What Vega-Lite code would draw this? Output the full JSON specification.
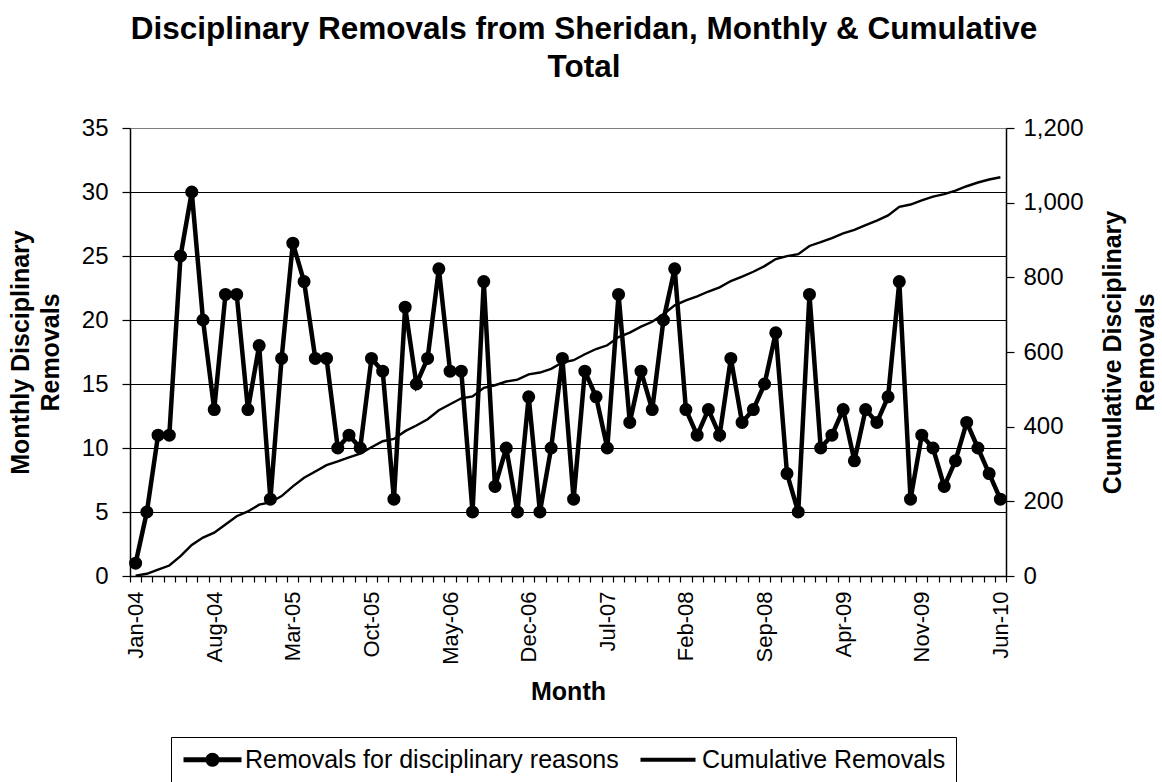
{
  "$schema": "https://vega.github.io/schema/vega-lite/v6.json",
  "width": 876,
  "height": 448,
  "autosize": {"type": "none"},
  "padding": {"left": 130, "top": 128, "right": 156, "bottom": 206},
  "background": "white",
  "config": {"font": "Liberation Sans", "view": {"stroke": null}},
  "title": {
    "text": ["Disciplinary Removals from Sheridan, Monthly & Cumulative", "Total"],
    "fontSize": 31.5, "fontWeight": "bold", "font": "Liberation Sans", "color": "black",
    "anchor": "middle", "dx": 16, "offset": 33, "lineHeight": 38
  },
  "data": {"values": [
    {"month": "Jan-04", "removals": 1, "cumulative": 1},
    {"month": "Feb-04", "removals": 5, "cumulative": 6},
    {"month": "Mar-04", "removals": 11, "cumulative": 17},
    {"month": "Apr-04", "removals": 11, "cumulative": 28},
    {"month": "May-04", "removals": 25, "cumulative": 53},
    {"month": "Jun-04", "removals": 30, "cumulative": 83},
    {"month": "Jul-04", "removals": 20, "cumulative": 103},
    {"month": "Aug-04", "removals": 13, "cumulative": 116},
    {"month": "Sep-04", "removals": 22, "cumulative": 138},
    {"month": "Oct-04", "removals": 22, "cumulative": 160},
    {"month": "Nov-04", "removals": 13, "cumulative": 173},
    {"month": "Dec-04", "removals": 18, "cumulative": 191},
    {"month": "Jan-05", "removals": 6, "cumulative": 197},
    {"month": "Feb-05", "removals": 17, "cumulative": 214},
    {"month": "Mar-05", "removals": 26, "cumulative": 240},
    {"month": "Apr-05", "removals": 23, "cumulative": 263},
    {"month": "May-05", "removals": 17, "cumulative": 280},
    {"month": "Jun-05", "removals": 17, "cumulative": 297},
    {"month": "Jul-05", "removals": 10, "cumulative": 307},
    {"month": "Aug-05", "removals": 11, "cumulative": 318},
    {"month": "Sep-05", "removals": 10, "cumulative": 328},
    {"month": "Oct-05", "removals": 17, "cumulative": 345},
    {"month": "Nov-05", "removals": 16, "cumulative": 361},
    {"month": "Dec-05", "removals": 6, "cumulative": 367},
    {"month": "Jan-06", "removals": 21, "cumulative": 388},
    {"month": "Feb-06", "removals": 15, "cumulative": 403},
    {"month": "Mar-06", "removals": 17, "cumulative": 420},
    {"month": "Apr-06", "removals": 24, "cumulative": 444},
    {"month": "May-06", "removals": 16, "cumulative": 460},
    {"month": "Jun-06", "removals": 16, "cumulative": 476},
    {"month": "Jul-06", "removals": 5, "cumulative": 481},
    {"month": "Aug-06", "removals": 23, "cumulative": 504},
    {"month": "Sep-06", "removals": 7, "cumulative": 511},
    {"month": "Oct-06", "removals": 10, "cumulative": 521},
    {"month": "Nov-06", "removals": 5, "cumulative": 526},
    {"month": "Dec-06", "removals": 14, "cumulative": 540},
    {"month": "Jan-07", "removals": 5, "cumulative": 545},
    {"month": "Feb-07", "removals": 10, "cumulative": 555},
    {"month": "Mar-07", "removals": 17, "cumulative": 572},
    {"month": "Apr-07", "removals": 6, "cumulative": 578},
    {"month": "May-07", "removals": 16, "cumulative": 594},
    {"month": "Jun-07", "removals": 14, "cumulative": 608},
    {"month": "Jul-07", "removals": 10, "cumulative": 618},
    {"month": "Aug-07", "removals": 22, "cumulative": 640},
    {"month": "Sep-07", "removals": 12, "cumulative": 652},
    {"month": "Oct-07", "removals": 16, "cumulative": 668},
    {"month": "Nov-07", "removals": 13, "cumulative": 681},
    {"month": "Dec-07", "removals": 20, "cumulative": 701},
    {"month": "Jan-08", "removals": 24, "cumulative": 725},
    {"month": "Feb-08", "removals": 13, "cumulative": 738},
    {"month": "Mar-08", "removals": 11, "cumulative": 749},
    {"month": "Apr-08", "removals": 13, "cumulative": 762},
    {"month": "May-08", "removals": 11, "cumulative": 773},
    {"month": "Jun-08", "removals": 17, "cumulative": 790},
    {"month": "Jul-08", "removals": 12, "cumulative": 802},
    {"month": "Aug-08", "removals": 13, "cumulative": 815},
    {"month": "Sep-08", "removals": 15, "cumulative": 830},
    {"month": "Oct-08", "removals": 19, "cumulative": 849},
    {"month": "Nov-08", "removals": 8, "cumulative": 857},
    {"month": "Dec-08", "removals": 5, "cumulative": 862},
    {"month": "Jan-09", "removals": 22, "cumulative": 884},
    {"month": "Feb-09", "removals": 10, "cumulative": 894},
    {"month": "Mar-09", "removals": 11, "cumulative": 905},
    {"month": "Apr-09", "removals": 13, "cumulative": 918},
    {"month": "May-09", "removals": 9, "cumulative": 927},
    {"month": "Jun-09", "removals": 13, "cumulative": 940},
    {"month": "Jul-09", "removals": 12, "cumulative": 952},
    {"month": "Aug-09", "removals": 14, "cumulative": 966},
    {"month": "Sep-09", "removals": 23, "cumulative": 989},
    {"month": "Oct-09", "removals": 6, "cumulative": 995},
    {"month": "Nov-09", "removals": 11, "cumulative": 1006},
    {"month": "Dec-09", "removals": 10, "cumulative": 1016},
    {"month": "Jan-10", "removals": 7, "cumulative": 1023},
    {"month": "Feb-10", "removals": 9, "cumulative": 1032},
    {"month": "Mar-10", "removals": 12, "cumulative": 1044},
    {"month": "Apr-10", "removals": 10, "cumulative": 1054},
    {"month": "May-10", "removals": 8, "cumulative": 1062},
    {"month": "Jun-10", "removals": 6, "cumulative": 1068}
  ]},
  "encoding": {
    "x": {
      "field": "month", "type": "nominal", "sort": null,
      "scale": {"type": "band", "paddingInner": 0, "paddingOuter": 0},
      "axis": {
        "labelExpr": "indexof(['Jan-04','Aug-04','Mar-05','Oct-05','May-06','Dec-06','Jul-07','Feb-08','Sep-08','Apr-09','Nov-09','Jun-10'], datum.value) >= 0 ? datum.value : ''",
        "labelAngle": 270, "labelAlign": "right", "labelBaseline": "middle",
        "labelFontSize": 22, "labelColor": "black", "labelPadding": 9, "labelOverlap": false,
        "tickBand": "extent", "tickSize": 6, "tickColor": "black", "tickWidth": 1.2,
        "domainColor": "black", "domainWidth": 1.5, "grid": false,
        "title": "Month", "titleFontSize": 25, "titleFontWeight": "bold", "titleColor": "black", "titlePadding": 15
      }
    }
  },
  "layer": [
    {
      "encoding": {
        "y": {
          "field": "removals", "type": "quantitative",
          "scale": {"domain": [0, 35]},
          "axis": {
            "orient": "left", "values": [0, 5, 10, 15, 20, 25, 30, 35],
            "grid": true,
            "gridColor": {"condition": {"test": "datum.value === 35", "value": "#808080"}, "value": "black"},
            "gridWidth": 1.2,
            "domainColor": "black", "domainWidth": 1.5,
            "tickColor": "black", "tickSize": 8, "tickWidth": 1.2,
            "labelFontSize": 24, "labelColor": "black", "labelPadding": 14,
            "title": ["Monthly Disciplinary", "Removals"],
            "titleFontSize": 25, "titleFontWeight": "bold", "titleColor": "black",
            "titlePadding": 18, "titleLineHeight": 30
          }
        }
      },
      "layer": [
        {"mark": {"type": "line", "color": "black", "strokeWidth": 4.5}},
        {"mark": {"type": "point", "filled": true, "color": "black", "size": 170, "opacity": 1}}
      ]
    },
    {
      "mark": {"type": "line", "color": "black", "strokeWidth": 2.4},
      "encoding": {
        "y": {
          "field": "cumulative", "type": "quantitative",
          "scale": {"domain": [0, 1200]},
          "axis": {
            "orient": "right", "values": [0, 200, 400, 600, 800, 1000, 1200], "format": ",.0f",
            "grid": false,
            "domainColor": "black", "domainWidth": 1.5,
            "tickColor": "black", "tickSize": 8, "tickWidth": 1.2,
            "labelFontSize": 24, "labelColor": "black", "labelPadding": 9,
            "title": ["Cumulative Disciplinary", "Removals"],
            "titleAngle": 270,
            "titleFontSize": 25, "titleFontWeight": "bold", "titleColor": "black",
            "titlePadding": 9, "titleLineHeight": 33
          }
        }
      }
    },
    {
      "data": {"values": []},
      "mark": {"type": "point", "filled": true, "color": "black", "strokeWidth": 0, "opacity": 1},
      "encoding": {
        "shape": {
          "field": "s", "type": "nominal",
          "scale": {
            "domain": ["Removals for disciplinary reasons", "Cumulative Removals"],
            "range": [
              "M-1,-0.25L4.8,-0.25L4.8,0.25L-1,0.25ZM1.2,0A0.7,0.7 0 1,1 2.6,0A0.7,0.7 0 1,1 1.2,0Z",
              "M-1,-0.2L4.5,-0.2L4.5,0.2L-1,0.2Z"
            ]
          },
          "legend": {
            "title": null, "orient": "none", "legendX": 41, "legendY": 609,
            "direction": "horizontal",
            "strokeColor": "black", "fillColor": "white", "padding": 10,
            "labelFontSize": 25, "labelColor": "black", "labelLimit": 0,
            "symbolSize": 400, "symbolStrokeWidth": 0,
            "symbolFillColor": "black",
            "labelOffset": 39, "columnPadding": 19
          }
        }
      }
    }
  ],
  "resolve": {"scale": {"y": "independent"}}
}
